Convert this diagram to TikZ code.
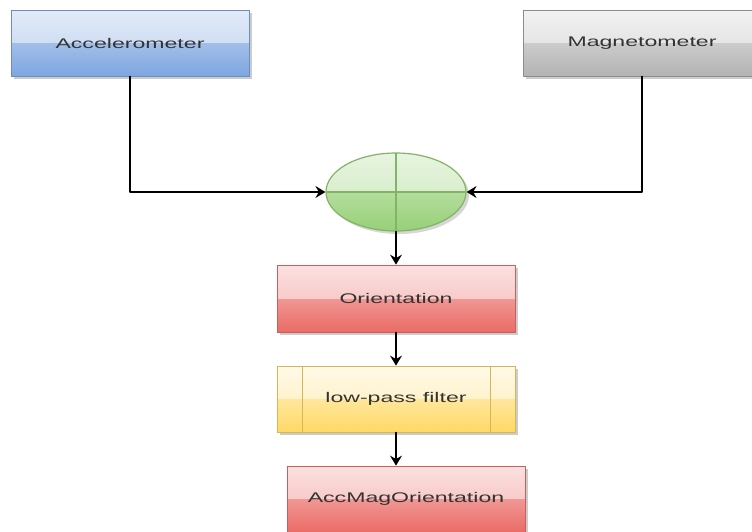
\documentclass[tikz,border=0pt]{standalone}
\usepackage{fontspec}
\setsansfont{Liberation Sans}
\usetikzlibrary{shapes.geometric,shadows,arrows.meta}

\definecolor{accblue}{HTML}{7EA6E0}
\definecolor{accline}{HTML}{6C8EBF}
\definecolor{magGray}{HTML}{B3B3B3}
\definecolor{magline}{HTML}{8C8C8C}
\definecolor{oriRed}{HTML}{EA6B66}
\definecolor{oriline}{HTML}{C9605C}
\definecolor{lpfYellow}{HTML}{FFD966}
\definecolor{lpfline}{HTML}{D6B656}
\definecolor{sumGreen}{HTML}{97D077}
\definecolor{sumline}{HTML}{82B366}

% wide sans text, as in the drawing
\newcommand{\widetext}[1]{\scalebox{1.65}[1]{#1}}
\newcommand{\glosshalf}{\fill[white, fill opacity=0.5]
  (path picture bounding box.north west) rectangle (path picture bounding box.east);}

\begin{document}
\begin{tikzpicture}[x=1pt, y=-1pt, line join=round, line cap=round,
  block/.style={rectangle, minimum width=238pt, minimum height=66pt,
    line width=0.8pt, text=black!80,
    font=\sffamily\fontsize{14}{16}\selectfont,
    drop shadow={shadow xshift=3pt, shadow yshift=-3pt, fill=black!20, opacity=1},
    path picture={\glosshalf}},
  flow/.style={-{Stealth[length=10pt, width=12pt, inset=3.5pt]}, line width=1.3pt}]

  \useasboundingbox (0,0) rectangle (752,531);
  \clip (0,0) rectangle (752,531);

  \node[block, draw=accline, top color=accblue!45!white, bottom color=accblue]
    (acc) at (130,43) {\widetext{Accelerometer}};
  \node[block, draw=magline, top color=magGray!35!white, bottom color=magGray]
    (mag) at (642,43) {\widetext{Magnetometer}};

  \node[ellipse, minimum width=140pt, minimum height=78pt, line width=1.2pt,
    draw=sumline, top color=sumGreen!45!white, bottom color=sumGreen,
    drop shadow={shadow xshift=3pt, shadow yshift=-3pt, fill=black!16, opacity=1},
    path picture={\glosshalf
      \draw[sumline, line width=1.2pt] (path picture bounding box.north) -- (path picture bounding box.south);
      \draw[sumline, line width=1.2pt] (path picture bounding box.west) -- (path picture bounding box.east);}]
    (sum) at (396,192) {};

  \node[block, minimum height=67pt, draw=oriline, top color=oriRed!40!white, bottom color=oriRed]
    (ori) at (396,298.5) {\widetext{Orientation}};
  \node[block, draw=lpfline, top color=lpfYellow!30!white, bottom color=lpfYellow,
    path picture={\glosshalf
      \draw[lpfline] ([xshift=25pt]path picture bounding box.north west) -- ([xshift=25pt]path picture bounding box.south west);
      \draw[lpfline] ([xshift=-25pt]path picture bounding box.north east) -- ([xshift=-25pt]path picture bounding box.south east);}]
    (lpf) at (396,399) {\widetext{low-pass filter}};
  \node[block, draw=oriline, top color=oriRed!40!white, bottom color=oriRed]
    (out) at (406,499) {\widetext{AccMagOrientation}};

  \draw[flow] (acc) |- (sum);
  \draw[flow] (mag) |- (sum);
  \draw[flow] (sum) -- (ori);
  \draw[flow] (ori) -- (lpf);
  \draw[flow] (lpf.south) -- (lpf.south |- out.north);
\end{tikzpicture}
\end{document}
